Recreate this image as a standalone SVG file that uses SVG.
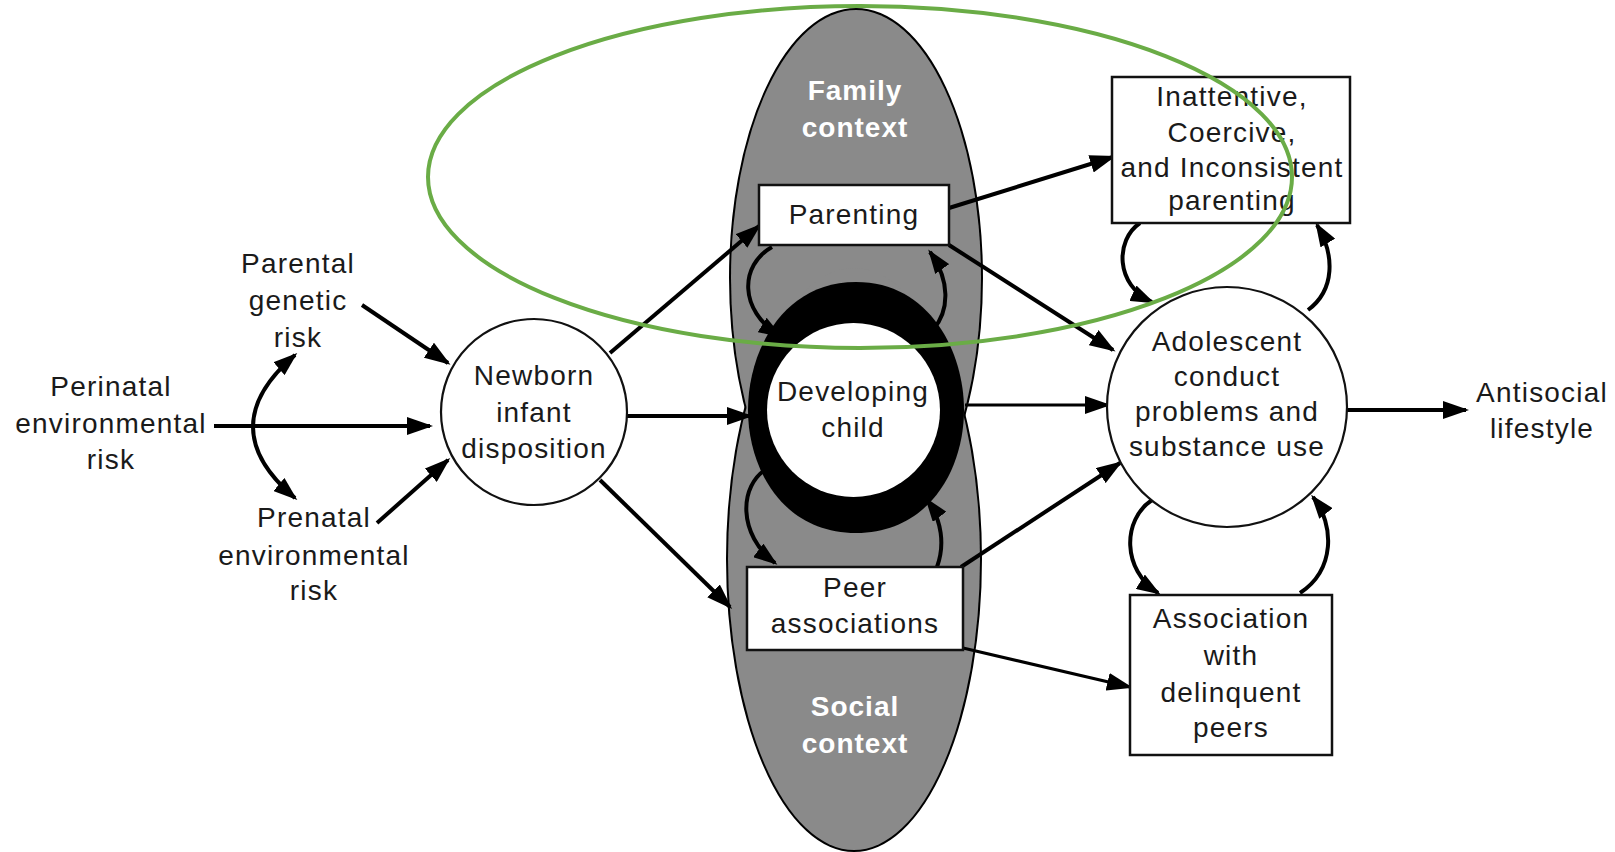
<svg xmlns="http://www.w3.org/2000/svg" width="1615" height="852" viewBox="0 0 1615 852">
  <style>
    .lbl { font-family: "Liberation Sans", Arial, Helvetica, sans-serif; font-size: 28px; letter-spacing: 1.2px; fill: #1a1a1a; text-anchor: middle; }
    .ctx { font-family: "Liberation Sans", Arial, Helvetica, sans-serif; font-size: 28px; font-weight: bold; letter-spacing: 1px; fill: #ffffff; text-anchor: middle; }
    .box { fill: #ffffff; stroke: #111111; stroke-width: 2.5; }
    .circ { fill: #ffffff; stroke: #111111; stroke-width: 2.2; }
    .ln { fill: none; stroke: #000000; stroke-width: 4; }
    .ln3 { fill: none; stroke: #000000; stroke-width: 3; }
    .big { marker-end: url(#ah); }
    .sm { marker-end: url(#ahs); }
  </style>
  <defs>
    <marker id="ah" markerUnits="userSpaceOnUse" viewBox="0 0 26 18" markerWidth="26" markerHeight="18" refX="23" refY="9" orient="auto">
      <path d="M0,0 L26,9 L0,18 Z" fill="#000"/>
    </marker>
    <marker id="ahs" markerUnits="userSpaceOnUse" viewBox="0 0 24 17" markerWidth="24" markerHeight="17" refX="21" refY="8.5" orient="auto">
      <path d="M0,0 L24,8.5 L0,17 Z" fill="#000"/>
    </marker>
    <marker id="ahsr" markerUnits="userSpaceOnUse" viewBox="0 0 24 17" markerWidth="24" markerHeight="17" refX="21" refY="8.5" orient="auto-start-reverse">
      <path d="M0,0 L24,8.5 L0,17 Z" fill="#000"/>
    </marker>
  </defs>

  <rect width="1615" height="852" fill="#ffffff"/>

  <!-- gray family / social context shape: two joined ellipses -->
  <g id="context-shape">
    <ellipse cx="856" cy="278" rx="125" ry="268" fill="none" stroke="#000" stroke-width="4"/>
    <ellipse cx="854" cy="559" rx="126" ry="291" fill="none" stroke="#000" stroke-width="4"/>
    <ellipse cx="856" cy="278" rx="125" ry="268" fill="#8a8a8a"/>
    <ellipse cx="854" cy="559" rx="126" ry="291" fill="#8a8a8a"/>
    <text class="ctx" x="855" y="100">Family</text>
    <text class="ctx" x="855" y="137">context</text>
    <text class="ctx" x="855" y="716">Social</text>
    <text class="ctx" x="855" y="753">context</text>
  </g>

  <!-- connectors -->
  <g id="connectors">
    <!-- risk inputs -->
    <path class="ln big" d="M214,426 L430,426"/>
    <path class="ln big" d="M362,305 L448,363"/>
    <path class="ln big" d="M377,523 L448,460"/>
    <path class="ln" d="M295,355 Q211,427 295,498" marker-start="url(#ahsr)" marker-end="url(#ahsr)"/>
    <!-- newborn outputs -->
    <path class="ln big" d="M610,353 L759,226"/>
    <path class="ln big" d="M627,416 L750,416"/>
    <path class="ln big" d="M600,480 L730,607"/>
    <!-- context to adolescent -->
    <path class="ln big" d="M949,208 L1113,157"/>
    <path class="ln big" d="M949,245 L1113,350"/>
    <path class="ln3 big" d="M965,405 L1108,405"/>
    <path class="ln big" d="M961,567 L1120,463"/>
    <path class="ln3 big" d="M963,648 L1130,687"/>
    <path class="ln big" d="M1346,410 L1466,410"/>
    <!-- reciprocal loops in the context shape -->
    <path class="ln sm" d="M772,247 C740,265 738,310 780,336"/>
    <path class="ln sm" d="M933,330 C950,310 950,280 930,252"/>
    <path class="ln sm" d="M768,468 C738,485 738,535 775,563"/>
    <path class="ln sm" d="M937,567 C945,545 942,520 927,500"/>
    <!-- reciprocal loops on the right -->
    <path class="ln sm" d="M1140,223 C1115,240 1115,285 1152,302"/>
    <path class="ln sm" d="M1308,310 C1335,290 1335,255 1317,225"/>
    <path class="ln sm" d="M1152,500 C1122,520 1122,570 1158,593"/>
    <path class="ln sm" d="M1300,593 C1335,570 1335,525 1313,497"/>
  </g>

  <g id="parental-genetic-risk">
    <text class="lbl" x="298" y="273">Parental</text>
    <text class="lbl" x="298" y="310">genetic</text>
    <text class="lbl" x="298" y="347">risk</text>
  </g>

  <g id="perinatal-risk">
    <text class="lbl" x="111" y="396">Perinatal</text>
    <text class="lbl" x="111" y="433">environmental</text>
    <text class="lbl" x="111" y="469">risk</text>
  </g>

  <g id="prenatal-risk">
    <text class="lbl" x="314" y="527">Prenatal</text>
    <text class="lbl" x="314" y="565">environmental</text>
    <text class="lbl" x="314" y="600">risk</text>
  </g>

  <g id="newborn">
    <circle class="circ" cx="534" cy="412" r="93"/>
    <text class="lbl" x="534" y="385">Newborn</text>
    <text class="lbl" x="534" y="422">infant</text>
    <text class="lbl" x="534" y="458">disposition</text>
  </g>

  <g id="parenting">
    <rect class="box" x="759" y="185" width="190" height="60"/>
    <text class="lbl" x="854" y="224">Parenting</text>
  </g>

  <g id="developing-child">
    <path d="M856,282 C930,282 964,352 964,410 C964,468 930,533 856,533 C782,533 748,468 748,410 C748,352 782,282 856,282 Z" fill="#000"/>
    <ellipse cx="853.5" cy="410" rx="86.5" ry="87" fill="#fff"/>
    <text class="lbl" x="853" y="401">Developing</text>
    <text class="lbl" x="853" y="437">child</text>
  </g>

  <g id="peer-associations">
    <rect class="box" x="747" y="567" width="216" height="83"/>
    <text class="lbl" x="855" y="597">Peer</text>
    <text class="lbl" x="855" y="633">associations</text>
  </g>

  <g id="inattentive-parenting">
    <rect class="box" x="1112" y="77" width="238" height="146"/>
    <text class="lbl" x="1232" y="106">Inattentive,</text>
    <text class="lbl" x="1232" y="142">Coercive,</text>
    <text class="lbl" x="1232" y="177">and Inconsistent</text>
    <text class="lbl" x="1232" y="210">parenting</text>
  </g>

  <g id="adolescent">
    <circle class="circ" cx="1227" cy="407" r="120"/>
    <text class="lbl" x="1227" y="351">Adolescent</text>
    <text class="lbl" x="1227" y="386">conduct</text>
    <text class="lbl" x="1227" y="421">problems and</text>
    <text class="lbl" x="1227" y="456">substance use</text>
  </g>

  <g id="delinquent-peers">
    <rect class="box" x="1130" y="595" width="202" height="160"/>
    <text class="lbl" x="1231" y="628">Association</text>
    <text class="lbl" x="1231" y="665">with</text>
    <text class="lbl" x="1231" y="702">delinquent</text>
    <text class="lbl" x="1231" y="737">peers</text>
  </g>

  <g id="antisocial-lifestyle">
    <text class="lbl" x="1542" y="402">Antisocial</text>
    <text class="lbl" x="1542" y="438">lifestyle</text>
  </g>

  <!-- highlight ring around the parenting pathway -->
  <g id="highlight">
    <ellipse cx="860" cy="177" rx="432" ry="171" fill="none" stroke="#6aac46" stroke-width="4"/>
  </g>
</svg>
